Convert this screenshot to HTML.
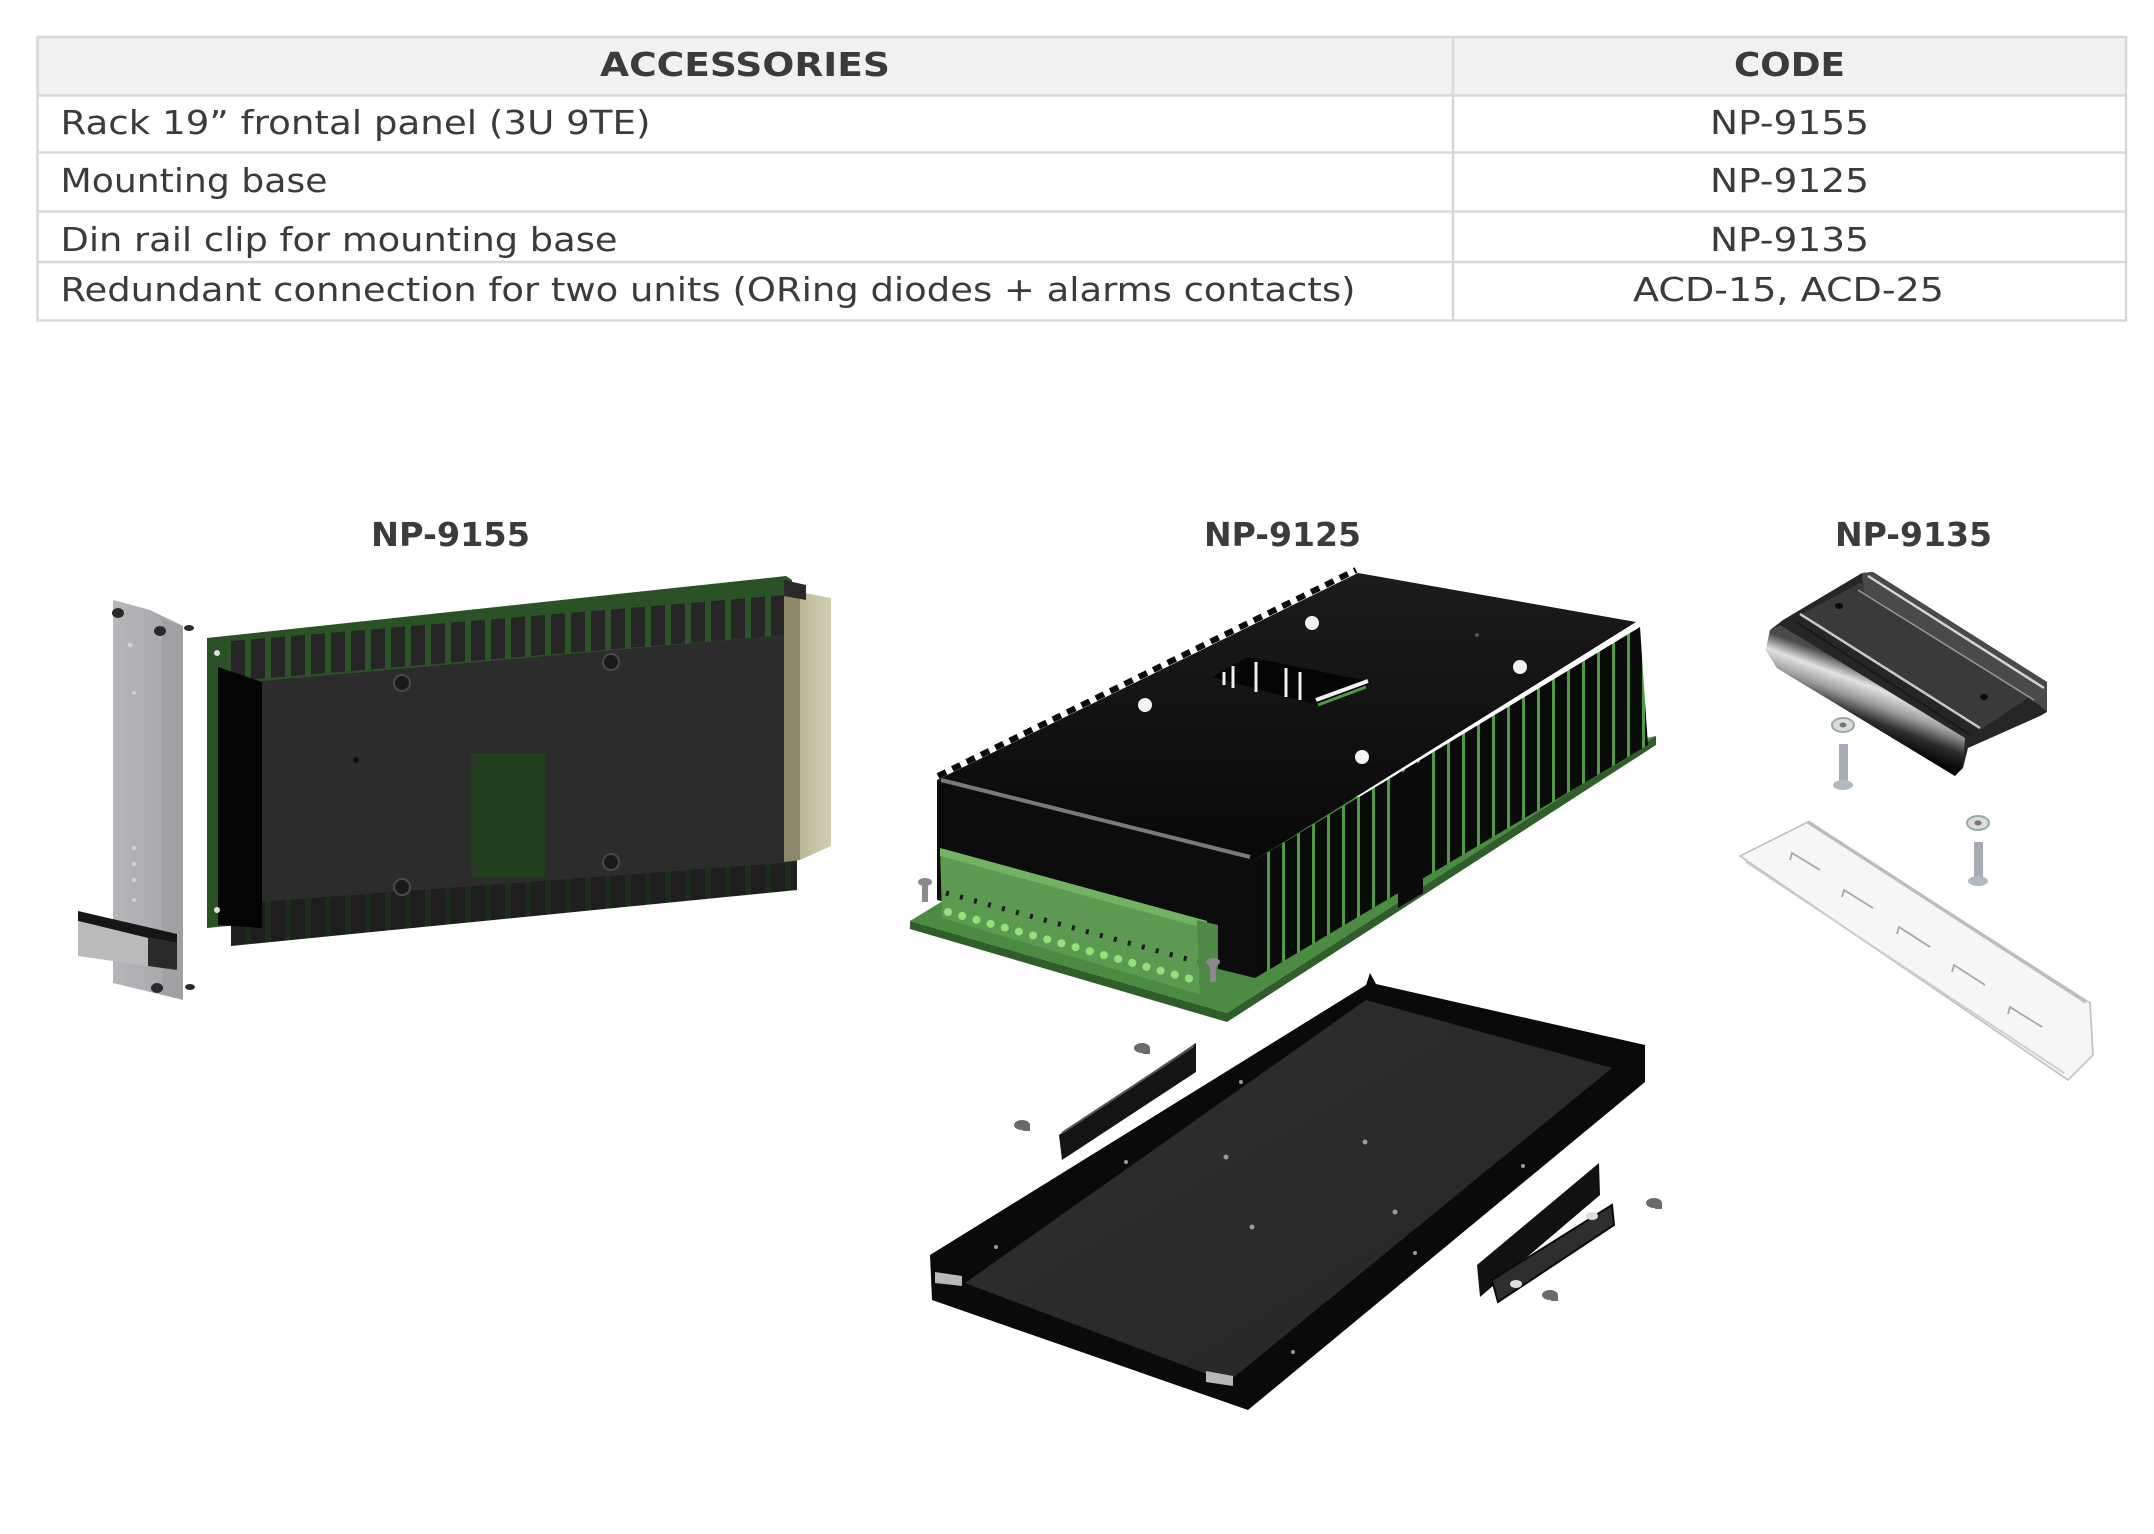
<!DOCTYPE html>
<html>
<head>
<meta charset="utf-8">
<style>
html,body{margin:0;padding:0;background:#fff;}
body{width:2154px;height:1534px;overflow:hidden;}
svg{display:block;}
.t{font-family:"DejaVu Sans","Liberation Sans",sans-serif;fill:#3b3b3b;font-size:33px;}
.b{font-weight:bold;}
</style>
</head>
<body>
<svg width="2154" height="1534" viewBox="0 0 2154 1534" xmlns="http://www.w3.org/2000/svg">
<defs>
  <pattern id="fin1" width="20" height="10" patternUnits="userSpaceOnUse" x="231">
    <rect width="20" height="10" fill="#2c5428"/>
    <rect width="14" height="10" fill="#262626"/>
  </pattern>
  <pattern id="fin1b" width="20" height="10" patternUnits="userSpaceOnUse" x="231">
    <rect width="20" height="10" fill="#1d2d1b"/>
    <rect width="14" height="10" fill="#1e1e1e"/>
  </pattern>
  <pattern id="fin2" width="15" height="10" patternUnits="userSpaceOnUse" x="1255">
    <rect width="15" height="10" fill="#4f9a45"/>
    <rect width="12" height="10" fill="#0b0b0b"/>
  </pattern>
  <linearGradient id="topg" x1="0" y1="0" x2="0" y2="1">
    <stop offset="0" stop-color="#1c1c1c"/>
    <stop offset="1" stop-color="#080808"/>
  </linearGradient>
  <linearGradient id="plate" x1="0" y1="0" x2="1" y2="1">
    <stop offset="0" stop-color="#2f2f2f"/>
    <stop offset="1" stop-color="#262626"/>
  </linearGradient>
  <linearGradient id="face" x1="0" y1="0" x2="1" y2="0">
    <stop offset="0" stop-color="#b4b6b9"/>
    <stop offset="1" stop-color="#a3a5a8"/>
  </linearGradient>
  <linearGradient id="roll" gradientUnits="userSpaceOnUse" x1="1878" y1="672" x2="1856" y2="732">
    <stop offset="0" stop-color="#4a4a4a"/>
    <stop offset="0.25" stop-color="#e2e2e2"/>
    <stop offset="0.5" stop-color="#9a9a9a"/>
    <stop offset="0.75" stop-color="#2e2e2e"/>
    <stop offset="1" stop-color="#080808"/>
  </linearGradient>
  <linearGradient id="conn" x1="0" y1="0" x2="1" y2="0">
    <stop offset="0" stop-color="#bdb898"/>
    <stop offset="1" stop-color="#d3cfb2"/>
  </linearGradient>
</defs>

<!-- ================= TABLE ================= -->
<rect x="37" y="37" width="2089" height="58.5" fill="#f1f1f1"/>
<g stroke="#d8d8d8" stroke-width="2.5" fill="none">
  <rect x="37.5" y="37" width="2088.5" height="283.5"/>
  <line x1="37" y1="95.5" x2="2126" y2="95.5"/>
  <line x1="37" y1="152.5" x2="2126" y2="152.5"/>
  <line x1="37" y1="211.5" x2="2126" y2="211.5"/>
  <line x1="37" y1="262" x2="2126" y2="262"/>
  <line x1="1453" y1="37" x2="1453" y2="320.5"/>
</g>
<text class="t b" x="600" y="76" font-size="35" textLength="290" lengthAdjust="spacingAndGlyphs">ACCESSORIES</text>
<text class="t b" x="1734" y="76" font-size="35" textLength="111" lengthAdjust="spacingAndGlyphs">CODE</text>

<text class="t" x="60.5" y="134" textLength="590" lengthAdjust="spacingAndGlyphs">Rack 19” frontal panel (3U 9TE)</text>
<text class="t" x="1710" y="134" textLength="159" lengthAdjust="spacingAndGlyphs">NP-9155</text>

<text class="t" x="60.5" y="192" textLength="267" lengthAdjust="spacingAndGlyphs">Mounting base</text>
<text class="t" x="1710" y="192" textLength="159" lengthAdjust="spacingAndGlyphs">NP-9125</text>

<text class="t" x="60.5" y="251" textLength="557" lengthAdjust="spacingAndGlyphs">Din rail clip for mounting base</text>
<text class="t" x="1710" y="251" textLength="159" lengthAdjust="spacingAndGlyphs">NP-9135</text>

<text class="t" x="60.5" y="301" textLength="1295" lengthAdjust="spacingAndGlyphs">Redundant connection for two units (ORing diodes + alarms contacts)</text>
<text class="t" x="1633" y="301" textLength="311" lengthAdjust="spacingAndGlyphs">ACD-15, ACD-25</text>

<!-- ================= LABELS ================= -->
<text class="t b" x="371" y="546" textLength="159" lengthAdjust="spacingAndGlyphs">NP-9155</text>
<text class="t b" x="1204" y="546" textLength="157" lengthAdjust="spacingAndGlyphs">NP-9125</text>
<text class="t b" x="1835" y="546" textLength="157" lengthAdjust="spacingAndGlyphs">NP-9135</text>

<!-- ================= NP-9155 ================= -->
<!-- faceplate -->
<polygon points="113,600 150,610 183,626 183,1000 113,983" fill="url(#face)"/>
<polygon points="162,619 183,626 183,1000 162,994" fill="#9fa1a4"/>
<g fill="#d0d2d4">
  <circle cx="130" cy="645" r="2.5"/><circle cx="134" cy="693" r="2"/>
  <circle cx="134" cy="848" r="2"/><circle cx="134" cy="864" r="2"/>
  <circle cx="134" cy="880" r="2"/><circle cx="134" cy="900" r="2"/>
</g>
<g fill="#2a2a2a">
  <ellipse cx="118" cy="613" rx="6" ry="5"/><ellipse cx="160" cy="631" rx="6" ry="5"/>
  <ellipse cx="189" cy="628" rx="5" ry="3"/><ellipse cx="157" cy="988" rx="6" ry="5"/>
  <ellipse cx="190" cy="987" rx="5" ry="3"/>
</g>
<!-- handle -->
<polygon points="78,911 177,934 177,943 148,938 78,921" fill="#161616"/>
<polygon points="78,921 148,938 148,966 78,956" fill="#bababa"/>
<polygon points="148,938 177,943 177,970 148,966" fill="#2a2a2a"/>

<!-- pcb -->
<polygon points="207,638 786,576 792,580 792,872 207,928" fill="#2b5227"/>
<!-- heatsink -->
<polygon points="231,641 797,594 797,634 231,681" fill="url(#fin1)"/>
<polygon points="262,681 797,634 797,866 262,906" fill="#2c2c2c"/>
<polygon points="231,904 797,862 797,890 231,946" fill="url(#fin1b)"/>
<polygon points="218,667 262,682 262,928 218,925" fill="#040404"/>
<rect x="471" y="753" width="74" height="124" fill="#213f1e"/>
<g fill="#1a1a1a" stroke="#4a4a4a" stroke-width="2">
  <circle cx="402" cy="683" r="8"/><circle cx="611" cy="662" r="8"/>
  <circle cx="402" cy="887" r="8"/><circle cx="611" cy="862" r="8"/>
</g>
<circle cx="356" cy="760" r="3" fill="#111"/>
<g fill="#e0e0e0">
  <circle cx="217" cy="653" r="3"/><circle cx="217" cy="910" r="3"/>
</g>
<!-- connector -->
<polygon points="784,585 800,592 800,860 784,862" fill="#8d886a"/>
<polygon points="800,592 831,598 831,846 800,860" fill="url(#conn)"/>
<polygon points="784,580 806,585 806,600 784,596" fill="#2a2a2a"/>

<!-- ================= NP-9125 top unit ================= -->
<!-- pcb -->
<polygon points="910,921 990,872 1656,736 1227,1013" fill="#4b8c42"/>
<polygon points="910,921 1227,1013 1656,736 1656,745 1227,1022 910,929" fill="#2f5e2a"/>
<!-- right side fins -->
<polygon points="1255,860 1640,627 1648,745 1255,978" fill="url(#fin2)"/>
<polygon points="1398,775 1423,760 1423,893 1398,908" fill="#0b0b0b"/>
<!-- front face -->
<polygon points="937,780 1255,860 1255,978 937,900" fill="#0c0c0c"/>
<!-- top face -->
<polygon points="937,780 1358,573 1636,622 1255,860" fill="url(#topg)"/>
<line x1="941" y1="780" x2="1250" y2="857" stroke="#7a7a7a" stroke-width="4"/>
<line x1="938" y1="776" x2="1356" y2="570" stroke="#0a0a0a" stroke-width="6" stroke-dasharray="9 7"/>
<!-- window -->
<polygon points="1212,677 1248,657 1372,682 1318,705" fill="#050505"/>
<g stroke="#f0f0f0" stroke-width="3">
  <line x1="1224" y1="672" x2="1224" y2="685"/>
  <line x1="1233" y1="666" x2="1233" y2="688"/>
  <line x1="1256" y1="662" x2="1256" y2="692"/>
  <line x1="1286" y1="668" x2="1286" y2="697"/>
  <line x1="1300" y1="672" x2="1300" y2="700"/>
</g>
<line x1="1316" y1="700" x2="1368" y2="681" stroke="#f2f2f2" stroke-width="4"/>
<line x1="1318" y1="705" x2="1366" y2="687" stroke="#4f9a45" stroke-width="3"/>
<g fill="#f4f4f4">
  <circle cx="1312" cy="623" r="7"/><circle cx="1145" cy="705" r="7"/>
  <circle cx="1520" cy="667" r="7"/><circle cx="1362" cy="757" r="7"/>
</g>
<circle cx="1477" cy="635" r="2" fill="#555"/>
<!-- terminal block -->
<polygon points="940,848 1207,921 1202,995 942,918" fill="#5b9a50"/>
<polygon points="940,848 1207,921 1207,929 940,856" fill="#72b263"/>
<line x1="946" y1="893" x2="1198" y2="962" stroke="#1a1a1a" stroke-width="5" stroke-dasharray="3 11.5"/>
<line x1="948" y1="912" x2="1198" y2="981" stroke="#92e27c" stroke-width="8" stroke-linecap="round" stroke-dasharray="0.1 14.6"/>
<polygon points="1197,920 1218,925 1218,998 1200,995" fill="#4e8a45"/>
<!-- screws -->
<g fill="#8a8a8a">
  <ellipse cx="925" cy="882" rx="7" ry="4"/><rect x="922" y="884" width="6" height="18"/>
  <ellipse cx="1213" cy="962" rx="7" ry="4"/><rect x="1210" y="964" width="6" height="18"/>
</g>

<!-- ================= NP-9125 mounting base ================= -->
<polygon points="930,1255 1366,985 1370,973 1376,984 1645,1045 1645,1082 1248,1410 932,1300" fill="#0a0a0a"/>
<polygon points="965,1283 1366,1000 1612,1068 1228,1382" fill="url(#plate)"/>
<polygon points="935,1272 962,1276 962,1286 935,1283" fill="#b8b8b8"/>
<polygon points="1206,1371 1233,1376 1233,1386 1206,1382" fill="#b8b8b8"/>
<g fill="#9a9a9a">
  <circle cx="1226" cy="1157" r="2.5"/><circle cx="1365" cy="1142" r="2.5"/>
  <circle cx="1395" cy="1212" r="2.5"/><circle cx="1252" cy="1227" r="2.5"/>
  <circle cx="1126" cy="1162" r="2"/><circle cx="996" cy="1247" r="2"/>
  <circle cx="1523" cy="1166" r="2"/><circle cx="1415" cy="1253" r="2"/>
  <circle cx="1293" cy="1352" r="2"/><circle cx="1241" cy="1082" r="2"/>
</g>
<!-- left bracket -->
<polygon points="1059,1135 1196,1043 1196,1072 1062,1160" fill="#141414"/>
<line x1="1062" y1="1133" x2="1194" y2="1046" stroke="#555" stroke-width="2"/>
<!-- right bracket -->
<polygon points="1477,1265 1599,1163 1600,1195 1480,1297" fill="#111"/>
<polygon points="1492,1280 1612,1205 1614,1225 1498,1302" fill="#2e2e2e" stroke="#0a0a0a" stroke-width="2"/>
<g fill="#dedede">
  <ellipse cx="1592" cy="1216" rx="6" ry="4"/><ellipse cx="1516" cy="1284" rx="6" ry="4"/>
</g>
<!-- screws -->
<g fill="#6a6a6a">
  <ellipse cx="1142" cy="1048" rx="8" ry="5"/><rect x="1143" y="1049" width="7" height="5"/>
  <ellipse cx="1022" cy="1125" rx="8" ry="5"/><rect x="1023" y="1126" width="7" height="5"/>
  <ellipse cx="1654" cy="1203" rx="8" ry="5"/><rect x="1655" y="1204" width="7" height="5"/>
  <ellipse cx="1550" cy="1295" rx="8" ry="5"/><rect x="1551" y="1296" width="7" height="5"/>
</g>

<!-- ================= NP-9135 ================= -->
<!-- clip body -->
<polygon points="1770,630 1783,620 1862,573 1873,572 2047,682 2047,712 2040,716 1968,748 1963,768 1955,776 1777,668 1766,650" fill="#262626"/>
<!-- flat plate -->
<polygon points="1800,615 1860,583 2040,690 1980,730" fill="#3a3a3a"/>
<!-- back rail -->
<polygon points="1862,573 1873,572 2047,682 2047,712 2038,704 1864,592" fill="#4a4a4a"/>
<line x1="1868" y1="576" x2="2044" y2="688" stroke="#d4d4d4" stroke-width="2.5"/>
<line x1="1858" y1="590" x2="2034" y2="700" stroke="#9a9a9a" stroke-width="1.5"/>
<!-- inner ridge near roll -->
<line x1="1800" y1="614" x2="1980" y2="728" stroke="#c9c9c9" stroke-width="2.5"/>
<line x1="1796" y1="622" x2="1972" y2="736" stroke="#1a1a1a" stroke-width="2"/>
<!-- front roll -->
<polygon points="1770,630 1780,625 1965,738 1963,765 1955,776 1777,668 1766,650" fill="url(#roll)"/>
<g fill="#0a0a0a">
  <ellipse cx="1839" cy="606" rx="4" ry="3"/><ellipse cx="1984" cy="697" rx="4" ry="3"/>
</g>
<!-- screws -->
<g>
  <ellipse cx="1843" cy="725" rx="11" ry="7" fill="#dcdcdc" stroke="#9aa" stroke-width="2"/>
  <ellipse cx="1843" cy="725" rx="3.5" ry="2.5" fill="#777"/>
  <rect x="1839" y="744" width="9" height="38" fill="#a7adb5"/>
  <ellipse cx="1843" cy="785" rx="10" ry="5" fill="#b3b9c0"/>
  <ellipse cx="1978" cy="823" rx="11" ry="7" fill="#dcdcdc" stroke="#9aa" stroke-width="2"/>
  <ellipse cx="1978" cy="823" rx="3.5" ry="2.5" fill="#777"/>
  <rect x="1974" y="842" width="9" height="36" fill="#a7adb5"/>
  <ellipse cx="1978" cy="881" rx="10" ry="5" fill="#b3b9c0"/>
</g>
<!-- din rail -->
<polygon points="1740,856 1808,822 2090,1003 2093,1055 2068,1080" fill="#f6f6f6" stroke="#c4c4c4" stroke-width="1.8"/>
<line x1="1808" y1="822" x2="2086" y2="1002" stroke="#bdbdbd" stroke-width="3.5"/>
<line x1="1746" y1="862" x2="2064" y2="1073" stroke="#cdcdcd" stroke-width="1.8"/>
<g fill="none" stroke="#a8a8a8" stroke-width="1.8">
  <polyline points="1790,860 1792,853 1820,870"/>
  <polyline points="1842,897 1844,890 1873,908"/>
  <polyline points="1897,934 1899,927 1930,947"/>
  <polyline points="1952,972 1954,965 1985,985"/>
  <polyline points="2008,1014 2010,1007 2042,1027"/>
</g>
</svg>
</body>
</html>
